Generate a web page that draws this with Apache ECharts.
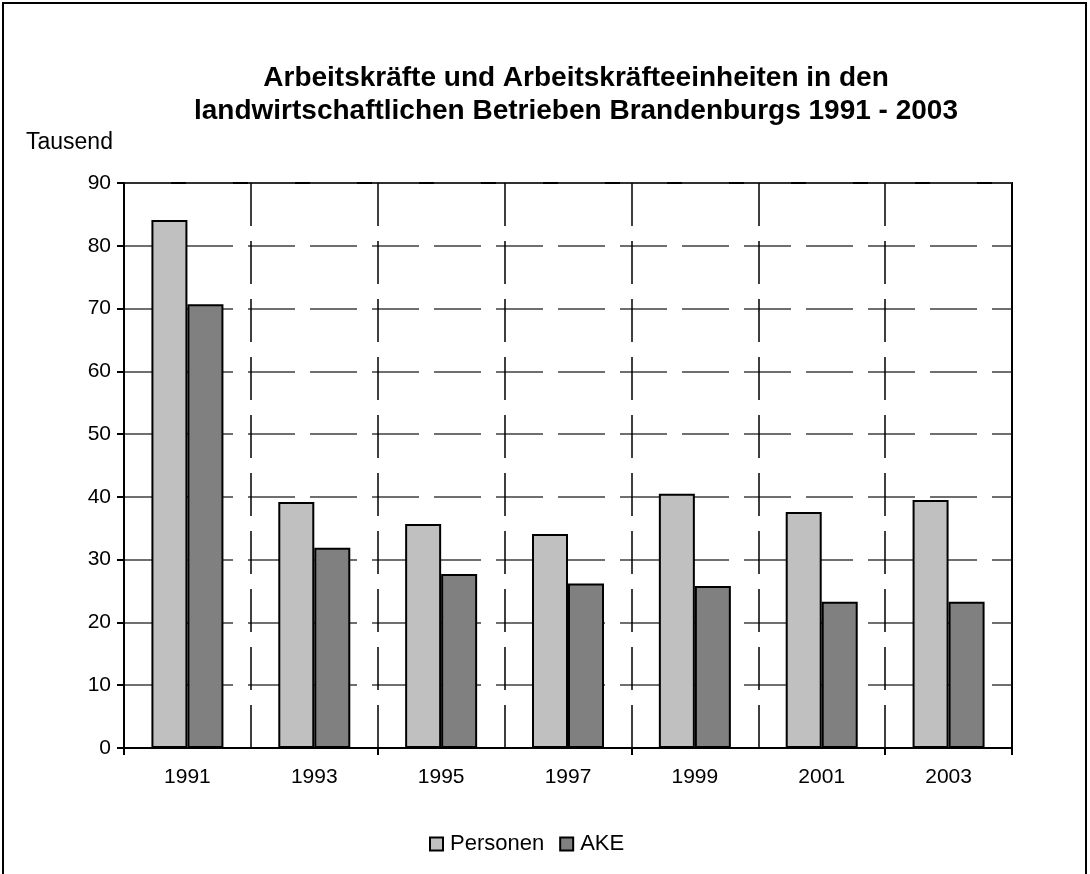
<!DOCTYPE html>
<html lang="de">
<head>
<meta charset="UTF-8">
<title>Arbeitskräfte Brandenburg</title>
<script src="https://cdn.jsdelivr.net/npm/echarts@6/dist/echarts.min.js"></script>
<style>
  html, body { margin: 0; padding: 0; background: #fff; }
  #chart { width: 1090px; height: 874px; }
</style>
</head>
<body>
<div id="chart"></div>
<script>
var years = ['1991', '1993', '1995', '1997', '1999', '2001', '2003'];
var personen = [84.1, 39.2, 35.7, 34.1, 40.5, 37.6, 39.5];
var ake = [70.7, 31.9, 27.7, 26.2, 25.8, 23.3, 23.3];

var chart = echarts.init(document.getElementById('chart'));
var fontFam = '"Liberation Sans", Arial, sans-serif';

var option = {
    backgroundColor: '#fff',
    animation: false,
    title: {
        text: 'Arbeitskräfte und Arbeitskräfteeinheiten in den\nlandwirtschaftlichen Betrieben Brandenburgs 1991 - 2003',
        left: 571,
        textAlign: 'center',
        top: 57,
        textStyle: { fontFamily: fontFam, fontSize: 28, fontWeight: 'bold', color: '#000', lineHeight: 33 }
    },
    graphic: [
        {
            type: 'rect',
            shape: { x: 3, y: 3, width: 1083, height: 900 },
            style: { fill: 'none', stroke: '#000', lineWidth: 2 },
            silent: true
        },
        {
            type: 'text',
            left: 26, top: 131,
            style: { text: 'Tausend', font: '23px ' + fontFam, fill: '#000' }
        }
    ],
    legend: {
        data: ['Personen', 'AKE'],
        left: 424,
        top: 828,
        itemWidth: 13,
        itemHeight: 13,
        itemGap: 15,
        icon: 'rect',
        textStyle: { fontFamily: fontFam, fontSize: 22, color: '#000', padding: [0, 0, 0, 2] }
    },
    grid: {
        left: 124, top: 183, right: 78, bottom: 126,
        show: true, borderColor: '#000', borderWidth: 2, containLabel: false
    },
    xAxis: {
        type: 'category',
        data: years,
        axisLine: { lineStyle: { color: '#000', width: 2 } },
        axisTick: { show: true, interval: 1, length: 7, lineStyle: { color: '#000', width: 2 } },
        axisLabel: { fontFamily: fontFam, fontSize: 21, color: '#000', margin: 19 },
        splitLine: {
            show: true, interval: 0,
            lineStyle: { color: '#000', width: 1.5, type: [43, 15], dashOffset: 0 }
        }
    },
    yAxis: {
        type: 'value',
        min: 0, max: 90, interval: 10,
        axisLine: { show: true, lineStyle: { color: '#000', width: 2 } },
        axisTick: { show: true, length: 7, lineStyle: { color: '#000', width: 2 } },
        axisLabel: { fontFamily: fontFam, fontSize: 21, color: '#000', margin: 13 },
        splitLine: {
            show: true,
            lineStyle: { color: '#404040', width: 1.5, type: [47, 15], dashOffset: 0 }
        }
    },
    series: [
        {
            name: 'Personen',
            type: 'bar',
            data: personen,
            barWidth: 36,
            barGap: '0%',
            itemStyle: { color: '#c0c0c0', borderColor: '#000', borderWidth: 2 }
        },
        {
            name: 'AKE',
            type: 'bar',
            data: ake,
            barWidth: 36,
            itemStyle: { color: '#808080', borderColor: '#000', borderWidth: 2 }
        }
    ]
};
chart.setOption(option);
</script>
</body>
</html>
